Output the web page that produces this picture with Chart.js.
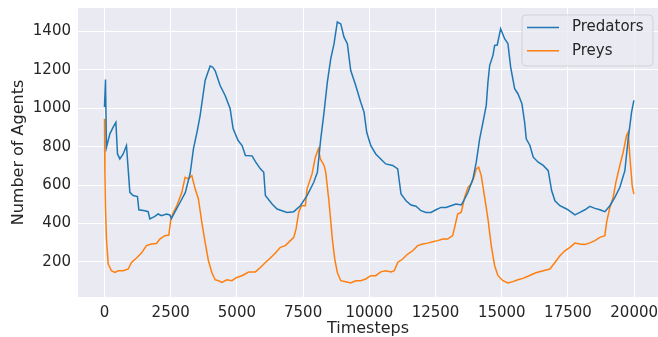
<!DOCTYPE html>
<html>
<head>
<meta charset="utf-8">
<script src="https://cdn.jsdelivr.net/npm/chart.js@4/dist/chart.umd.min.js"></script>
<style>
  html, body { margin: 0; padding: 0; background: #ffffff; }
  #wrap { width: 658px; height: 337px; position: relative; }
</style>
</head>
<body>
<div id="wrap"><canvas id="c" width="658" height="337"></canvas></div>
<script>
// ---- data ----
const predatorSteps = [0,38,75,204,328,430,491,581,706,830,894,958,1083,1245,1298,1525,1649,1713,1902,2026,2151,2340,2468,2528,2700,2857,3050,3234,3360,3500,3611,3800,3989,4080,4177,4366,4555,4743,4856,5045,5196,5321,5573,5698,5887,6014,6075,6328,6517,6706,6894,7147,7396,7649,7902,8038,8166,8291,8415,8543,8668,8792,8921,9045,9170,9298,9487,9675,9800,9902,10053,10242,10430,10619,10883,11072,11196,11385,11574,11762,11951,12140,12328,12517,12706,12894,13083,13272,13472,13600,13725,13913,14038,14166,14291,14415,14479,14543,14668,14732,14830,14958,15109,15234,15336,15487,15611,15762,15864,15925,16064,16189,16377,16566,16755,16883,17008,17196,17449,17638,17762,17951,18140,18328,18517,18706,18894,19083,19272,19460,19649,19774,19902,19989];
const predatorCounts = [1006,1150,797,867,902,927,762,736,762,806,684,562,545,540,471,466,461,423,436,449,440,449,444,425,470,510,560,660,790,880,962,1145,1220,1215,1197,1119,1067,999,894,832,806,754,752,722,684,666,545,501,475,466,457,461,492,545,614,666,841,980,1136,1258,1337,1450,1440,1371,1337,1197,1119,1032,980,875,806,762,736,710,702,684,553,518,496,489,466,457,457,471,483,483,492,501,496,527,562,632,719,841,927,1015,1136,1223,1276,1328,1330,1415,1363,1337,1215,1102,1076,1024,927,841,806,745,719,702,675,571,518,492,475,457,444,457,471,489,478,471,461,492,536,588,675,841,980,1041];

const preySteps = [0,15,38,75,140,264,392,517,706,894,1019,1208,1396,1585,1774,1962,2091,2279,2430,2506,2604,2732,2921,3045,3170,3298,3423,3547,3675,3800,3925,4053,4177,4302,4430,4619,4808,4996,5185,5309,5449,5698,5887,6075,6264,6453,6642,6830,7019,7147,7234,7336,7434,7585,7649,7838,7962,8075,8151,8291,8355,8479,8604,8694,8792,8921,9109,9298,9487,9675,9864,10053,10242,10430,10619,10819,10943,11072,11260,11449,11638,11826,12015,12204,12392,12581,12770,12958,13147,13208,13336,13472,13600,13725,13849,13951,14038,14128,14226,14355,14479,14604,14732,14857,15045,15234,15423,15611,15800,15989,16177,16316,16566,16819,17008,17196,17385,17574,17762,17951,18140,18328,18517,18706,18894,18958,19083,19208,19309,19460,19585,19713,19774,19834,19925,19989];
const preyCounts = [945,666,480,318,188,153,144,153,153,162,196,219,245,284,292,295,318,336,339,423,458,492,562,640,632,649,580,527,405,301,205,144,106,101,92,106,101,118,127,136,147,147,170,196,219,245,275,284,310,327,371,458,492,492,580,658,745,789,736,702,666,510,318,214,144,101,96,89,101,101,110,127,127,147,153,147,153,196,214,240,257,284,292,297,304,310,318,318,336,371,449,458,536,588,606,640,684,693,649,536,423,284,179,127,101,89,96,106,113,124,136,144,153,162,196,231,257,275,297,292,290,298,310,327,336,405,483,536,614,702,771,858,876,754,597,553];

const seriesNames = ["Predators", "Preys"];
const seriesColors = ["#1f77b4", "#ff7f0e"];
const xTickValues = [0, 2500, 5000, 7500, 10000, 12500, 15000, 17500, 20000];
const yTickValues = [200, 400, 600, 800, 1000, 1200, 1400];
const xTitle = "Timesteps";
const yTitle = "Number of Agents";

function toPoints(xs, ys) { return xs.map((x, i) => ({ x: x, y: ys[i] })); }

const FONT = "'DejaVu Sans', sans-serif";
const TEXT = "#262626";

function noPad(scale) {
  scale.paddingTop = 0; scale.paddingBottom = 0;
  scale.paddingLeft = 0; scale.paddingRight = 0;
}

const bgPlugin = {
  id: 'plotBg',
  beforeDraw(chart) {
    const { ctx, chartArea: a } = chart;
    ctx.save();
    ctx.fillStyle = '#EAEAF2';
    ctx.fillRect(a.left, a.top, a.right - a.left, a.bottom - a.top);
    ctx.restore();
  }
};

const legendPlugin = {
  id: 'innerLegend',
  afterDraw(chart) {
    const ctx = chart.ctx;
    const a = chart.chartArea;
    const w = 131, h = 51;
    const x = a.right - 5 - w, y = a.top + 7;
    ctx.save();
    ctx.beginPath();
    const r = 4;
    ctx.moveTo(x + r, y);
    ctx.arcTo(x + w, y, x + w, y + h, r);
    ctx.arcTo(x + w, y + h, x, y + h, r);
    ctx.arcTo(x, y + h, x, y, r);
    ctx.arcTo(x, y, x + w, y, r);
    ctx.closePath();
    ctx.fillStyle = 'rgba(234,234,242,0.8)';
    ctx.fill();
    ctx.strokeStyle = 'rgba(204,204,204,0.8)';
    ctx.lineWidth = 1;
    ctx.stroke();
    chart.data.datasets.forEach((ds, i) => {
      const cy = y + 12.5 + i * 23.3;
      ctx.beginPath();
      ctx.strokeStyle = ds.borderColor;
      ctx.lineWidth = 1.5;
      ctx.moveTo(x + 5, cy);
      ctx.lineTo(x + 37, cy);
      ctx.stroke();
      ctx.fillStyle = TEXT;
      ctx.font = "15px " + FONT;
      ctx.textBaseline = 'middle';
      ctx.textAlign = 'left';
      ctx.fillText(ds.label, x + 50, cy);
    });
    ctx.restore();
  }
};

new Chart(document.getElementById('c'), {
  type: 'line',
  data: {
    datasets: [
      { label: seriesNames[0], data: toPoints(predatorSteps, predatorCounts), borderColor: seriesColors[0], backgroundColor: seriesColors[0], borderWidth: 1.5, pointRadius: 0, tension: 0, fill: false },
      { label: seriesNames[1], data: toPoints(preySteps, preyCounts), borderColor: seriesColors[1], backgroundColor: seriesColors[1], borderWidth: 1.5, pointRadius: 0, tension: 0, fill: false }
    ]
  },
  options: {
    responsive: false,
    animation: false,
    layout: { padding: { top: 8, right: 0, left: 0, bottom: 0 } },
    plugins: { legend: { display: false }, tooltip: { enabled: false } },
    scales: {
      x: {
        type: 'linear',
        min: -1000,
        max: 20900,
        afterBuildTicks(scale) { scale.ticks = xTickValues.map(v => ({ value: v })); },
        afterFit(scale) { scale.height = 40; noPad(scale); },
        grid: { color: '#ffffff', lineWidth: 1, drawTicks: false },
        border: { display: false },
        ticks: { color: TEXT, font: { family: FONT, size: 15 }, padding: 7, maxRotation: 0, autoSkip: false, callback: v => String(v) },
        title: { display: true, text: xTitle, color: TEXT, font: { family: FONT, size: 16, lineHeight: 1 }, padding: { top: 0, bottom: 0 } }
      },
      y: {
        min: 16,
        max: 1523,
        afterBuildTicks(scale) { scale.ticks = yTickValues.map(v => ({ value: v })); },
        afterFit(scale) { scale.width = 78; noPad(scale); },
        grid: { color: '#ffffff', lineWidth: 1, drawTicks: false },
        border: { display: false },
        ticks: { color: TEXT, font: { family: FONT, size: 15 }, padding: 7, autoSkip: false, callback: v => String(v) },
        title: { display: true, text: yTitle, color: TEXT, font: { family: FONT, size: 16, lineHeight: 1 }, padding: { top: 11, bottom: 0 } }
      }
    }
  },
  plugins: [bgPlugin, legendPlugin]
});
</script>
</body>
</html>
